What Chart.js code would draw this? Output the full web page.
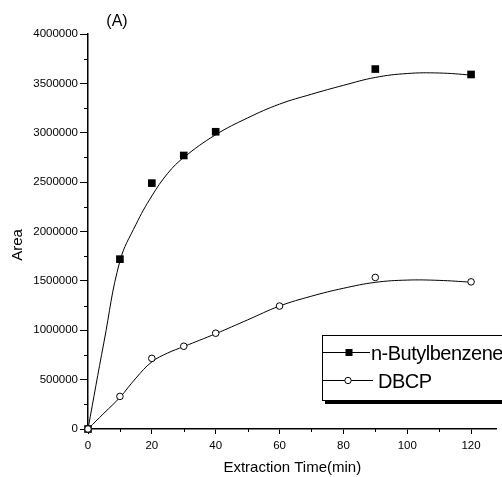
<!DOCTYPE html>
<html>
<head>
<meta charset="utf-8">
<script src="https://cdn.jsdelivr.net/npm/chart.js@4/dist/chart.umd.min.js"></script>
<style>
  html, body { margin: 0; padding: 0; background: #fff; }
  #wrap { width: 502px; height: 477px; }
</style>
</head>
<body>
<div id="wrap"><canvas id="areaChart"></canvas></div>
<script>
// measured points
const times = [0, 10, 20, 30, 40, 90, 120];
const butylAreas = [0, 1720000, 2490000, 2770000, 3010000, 3645000, 3590000];
const dbcpTimes = [0, 10, 20, 30, 40, 60, 90, 120];
const dbcpAreas = [0, 330000, 715000, 838000, 970000, 1245000, 1535000, 1490000];

// fitted curves
const fitTimes = [0, 5, 10, 15, 20, 25, 30, 40, 50, 60, 70, 80, 90, 100, 110, 120];
const butylFit = [0, 880000, 1700000, 2070000, 2360000, 2590000, 2750000, 2980000, 3150000, 3290000, 3390000, 3480000, 3560000, 3600000, 3605000, 3585000];
const dbcpFit = [0, 160000, 320000, 515000, 680000, 770000, 835000, 965000, 1105000, 1245000, 1345000, 1425000, 1485000, 1508000, 1505000, 1487000];

// axis ticks
const xTicks = [0, 20, 40, 60, 80, 100, 120];
const xMinorTicks = [10, 30, 50, 70, 90, 110];
const yTicks = [0, 500000, 1000000, 1500000, 2000000, 2500000, 3000000, 3500000, 4000000];
const yMinorTicks = [250000, 750000, 1250000, 1750000, 2250000, 2750000, 3250000, 3750000];

const seriesNames = ['n-Butylbenzene', 'DBCP'];

const FONT = '"Liberation Sans", Arial, sans-serif';

const toPoints = (xs, ys) => xs.map((t, i) => ({ x: t, y: ys[i] }));

// minor ticks, panel label, rotated y title and the boxed legend
const decorations = {
    id: 'decorations',
    afterDraw(chart) {
        const { ctx, scales: { x, y } } = chart;
        ctx.save();
        ctx.strokeStyle = '#000';
        ctx.fillStyle = '#000';
        ctx.lineWidth = 1;

        ctx.beginPath();
        xMinorTicks.forEach(v => {
            const px = Math.round(x.getPixelForValue(v)) + 0.5;
            ctx.moveTo(px, x.top);
            ctx.lineTo(px, x.top + 3);
        });
        yMinorTicks.forEach(v => {
            const py = Math.round(y.getPixelForValue(v)) + 0.5;
            ctx.moveTo(y.right, py);
            ctx.lineTo(y.right - 4, py);
        });
        ctx.stroke();

        // panel label
        ctx.font = '16px ' + FONT;
        ctx.textAlign = 'center';
        ctx.textBaseline = 'middle';
        ctx.fillText('(A)', 117, 22);

        // y title
        ctx.save();
        ctx.translate(18, 245);
        ctx.rotate(-Math.PI / 2);
        ctx.font = '15px ' + FONT;
        ctx.fillText('Area', 0, 0);
        ctx.restore();

        // legend box with drop shadow
        const bx = 322, by = 335, bw = 200, bh = 65;
        ctx.fillRect(bx + 3, by + bh, bw, 4);
        ctx.fillStyle = '#fff';
        ctx.fillRect(bx, by, bw, bh);
        ctx.strokeRect(bx + 0.5, by + 0.5, bw, bh);

        ctx.fillStyle = '#000';
        ctx.beginPath();
        ctx.moveTo(bx, 352.5); ctx.lineTo(370, 352.5);
        ctx.moveTo(bx, 380.5); ctx.lineTo(373, 380.5);
        ctx.stroke();
        ctx.fillRect(345.5, 349, 7, 7);
        ctx.beginPath();
        ctx.arc(348, 380.5, 3.2, 0, Math.PI * 2);
        ctx.fillStyle = '#fff';
        ctx.fill();
        ctx.stroke();

        ctx.fillStyle = '#000';
        ctx.font = '20px ' + FONT;
        ctx.letterSpacing = '-0.5px';
        ctx.textAlign = 'left';
        ctx.textBaseline = 'alphabetic';
        ctx.fillText(seriesNames[0], 371, 360);
        ctx.fillText(seriesNames[1], 378, 388);
        ctx.restore();
    }
};

const ctx = document.getElementById('areaChart');
new Chart(ctx, {
    type: 'line',
    data: {
        datasets: [
            {
                label: seriesNames[1],
                data: toPoints(dbcpTimes, dbcpAreas),
                showLine: false,
                pointStyle: 'circle',
                pointRadius: 3.3,
                pointBorderWidth: 1,
                pointBorderColor: '#000',
                pointBackgroundColor: '#fff',
                clip: false
            },
            {
                label: seriesNames[0],
                data: toPoints(times, butylAreas),
                showLine: false,
                pointStyle: 'rect',
                pointRadius: 5.4,
                pointBorderWidth: 0,
                pointBackgroundColor: '#000',
                pointBorderColor: '#000',
                clip: false
            },
            {
                label: 'DBCP fit',
                data: toPoints(fitTimes, dbcpFit),
                borderColor: '#000',
                borderWidth: 1,
                pointRadius: 0,
                tension: 0.4
            },
            {
                label: 'n-Butylbenzene fit',
                data: toPoints(fitTimes, butylFit),
                borderColor: '#000',
                borderWidth: 1,
                pointRadius: 0,
                tension: 0.4
            }
        ]
    },
    options: {
        responsive: true,
        maintainAspectRatio: false,
        animation: false,
        devicePixelRatio: 1,
        layout: { padding: { top: 34, right: 0, left: 0, bottom: 0 } },
        plugins: {
            legend: { display: false },
            tooltip: { enabled: false }
        },
        scales: {
            x: {
                type: 'linear',
                min: 0,
                max: 128,
                afterBuildTicks: scale => { scale.ticks = xTicks.map(v => ({ value: v })); },
                afterFit: scale => { scale.height = 48; },
                grid: {
                    drawOnChartArea: false,
                    tickLength: 5,
                    tickColor: '#000',
                    tickWidth: 1
                },
                border: { display: true, color: '#000', width: 1.5 },
                ticks: {
                    color: '#000',
                    font: { family: FONT, size: 11.5 },
                    padding: 5,
                    maxRotation: 0,
                    callback: v => String(v)
                },
                title: {
                    display: true,
                    text: 'Extraction Time(min)',
                    color: '#000',
                    font: { family: FONT, size: 15 },
                    padding: { top: 0, bottom: 0 }
                }
            },
            y: {
                min: 0,
                max: 4000000,
                afterBuildTicks: scale => { scale.ticks = yTicks.map(v => ({ value: v })); },
                afterFit: scale => { scale.width = 88; },
                grid: {
                    drawOnChartArea: false,
                    tickLength: 8,
                    tickColor: '#000',
                    tickWidth: 1
                },
                border: { display: true, color: '#000', width: 1.5 },
                ticks: {
                    color: '#000',
                    font: { family: FONT, size: 11.5 },
                    padding: 2,
                    callback: v => String(v)
                }
            }
        }
    },
    plugins: [decorations]
});
</script>
</body>
</html>
